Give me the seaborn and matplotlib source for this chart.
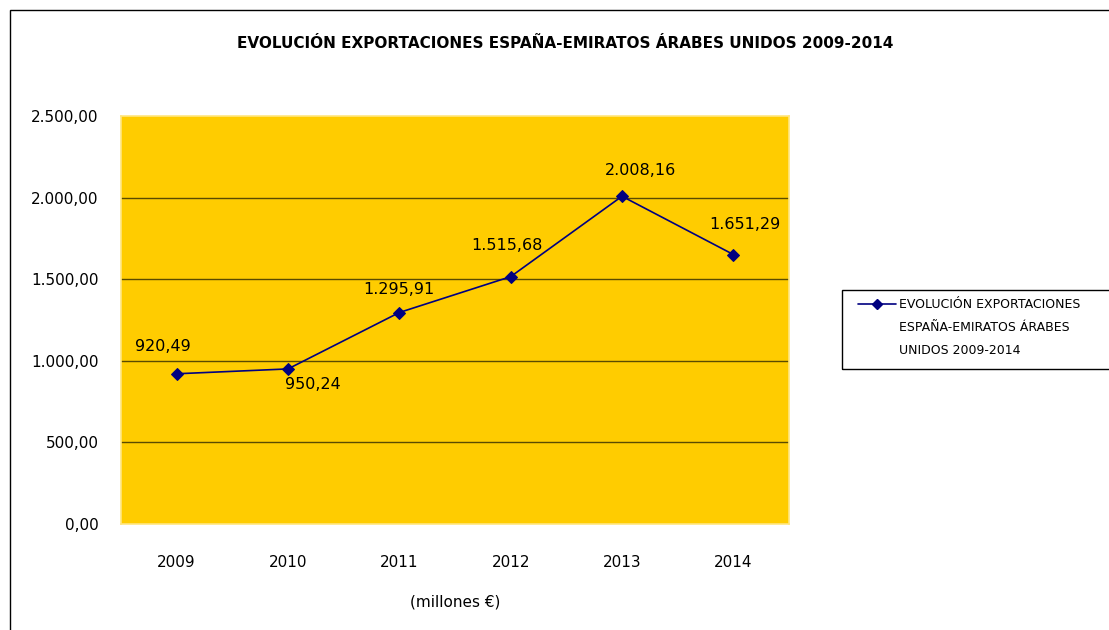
import matplotlib
matplotlib.use("Agg")
import matplotlib.pyplot as plt
import seaborn as sns
import pandas as pd
from matplotlib.patches import Rectangle
from matplotlib.lines import Line2D

years = ["2009", "2010", "2011", "2012", "2013", "2014"]
values = [920.49, 950.24, 1295.91, 1515.68, 2008.16, 1651.29]
labels = ["920,49", "950,24", "1.295,91", "1.515,68", "2.008,16", "1.651,29"]
yticks = [0, 500, 1000, 1500, 2000, 2500]
ytick_labels = ["0,00", "500,00", "1.000,00", "1.500,00", "2.000,00", "2.500,00"]
title = "EVOLUCIÓN EXPORTACIONES ESPAÑA-EMIRATOS ÁRABES UNIDOS 2009-2014"
legend_lines = ["EVOLUCIÓN EXPORTACIONES", "ESPAÑA-EMIRATOS ÁRABES", "UNIDOS 2009-2014"]

sns.set_theme(style="white")
plt.rcParams['font.family'] = ['DejaVu Sans']
plt.rcParams['text.color'] = 'black'
plt.rcParams['xtick.color'] = 'black'
plt.rcParams['ytick.color'] = 'black'
plt.rcParams['axes.labelcolor'] = 'black'

df = pd.DataFrame({"year": years, "value": values})

fig = plt.figure(figsize=(11.09, 6.3), dpi=100)
W, H = 1109, 630
# outer border
fig.patches.append(Rectangle((10 / W, -0.01), 1.2, (630 - 10) / H + 0.01, transform=fig.transFigure,
                             fill=False, edgecolor="black", linewidth=1.0))

ax = fig.add_axes([121 / W, (630 - 524) / H, (789 - 121) / W, (524 - 116) / H])
ax.set_facecolor("#FFCC00")
sns.lineplot(data=df, x="year", y="value", ax=ax, color="#000080", marker="D",
             markersize=6, markeredgecolor="#000080", linewidth=1.2, sort=False, zorder=3)

ax.set_xlim(-0.5, 5.5)
ax.set_ylim(0, 2500)
ax.set_yticks(yticks)
ax.set_yticklabels(ytick_labels, fontsize=11)
ax.tick_params(axis="x", labelsize=11, pad=16)
ax.tick_params(axis="y", pad=10)
for y in yticks[1:-1]:
    ax.axhline(y, color="#5a4a00", linewidth=1.0, zorder=1)
for s in ax.spines.values():
    s.set_color("#FFE680")
    s.set_linewidth(1.2)
ax.set_xlabel("(millones €)", fontsize=11, labelpad=18)
ax.set_ylabel("")

offsets = [(-0.12, 170), (0.22, -98), (0, 141), (-0.03, 190), (0.17, 160), (0.1, 184)]
for i, (v, lab) in enumerate(zip(values, labels)):
    dx, dy = offsets[i]
    ax.text(i + dx, v + dy, lab, ha="center", va="center", fontsize=11.5, color="black")

fig.text(565 / W, 1 - 43 / H, title, ha="center", va="center", fontsize=11, fontweight="bold")

# legend
fig.patches.append(Rectangle((842 / W, (630 - 369) / H), 280 / W, 79 / H, transform=fig.transFigure,
                             fill=False, edgecolor="black", linewidth=1.0))
fig.lines.append(Line2D([858 / W, 896 / W], [1 - 304 / H, 1 - 304 / H], transform=fig.transFigure,
                        color="#000080", linewidth=1.2))
fig.lines.append(Line2D([877 / W], [1 - 304 / H], transform=fig.transFigure,
                        color="#000080", marker="D", markersize=5))
for k, line in enumerate(legend_lines):
    fig.text(899 / W, 1 - (304 + 23.5 * k) / H, line, ha="left", va="center", fontsize=9)

fig.savefig("out.png", dpi=100)
